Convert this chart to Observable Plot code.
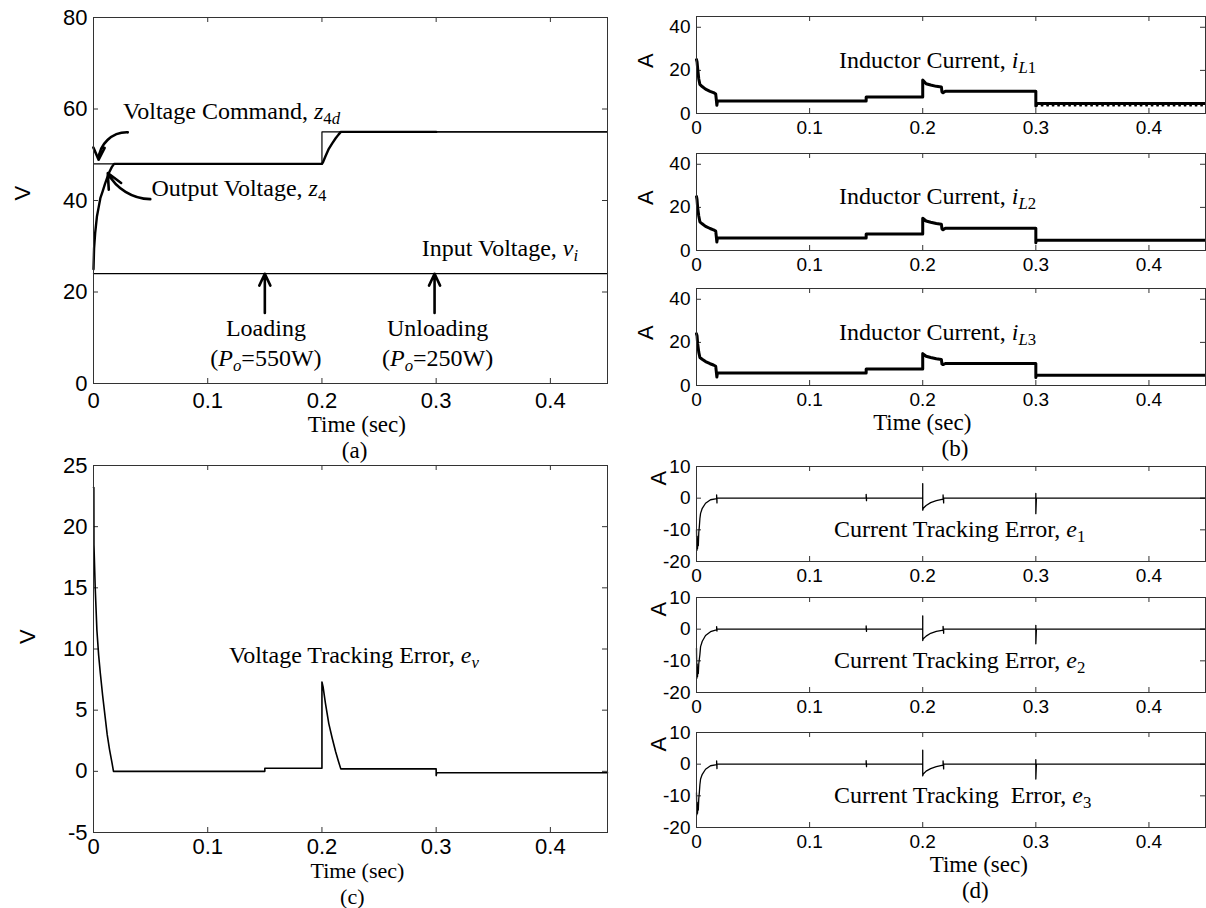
<!DOCTYPE html>
<html><head><meta charset="utf-8">
<script src="https://cdn.jsdelivr.net/npm/d3@7"></script>
<script src="https://cdn.jsdelivr.net/npm/@observablehq/plot@0.6"></script>
<style>
body{margin:0;background:#fff;}
#fig{position:relative;width:1206px;height:908px;overflow:hidden;background:#fff;}
.ann{position:absolute;font-family:"Liberation Serif","Times New Roman",serif;font-size:24px;white-space:nowrap;color:#000;line-height:1;}
.ann.lbl{line-height:0.9;}
.ann sub{font-size:0.7em;vertical-align:-0.3em;line-height:0;}
</style></head><body><div id="fig"></div><script>
// ---------- data ----------
const xTicks = [0, 0.1, 0.2, 0.3, 0.4];
const yTicksA = [0, 20, 40, 60, 80];
const yTicksB = [0, 20, 40];
const yTicksC = [-5, 0, 5, 10, 15, 20, 25];
const yTicksD = [-20, -10, 0, 10];

// (a) voltages
const tCmd = [0, 0.2, 0.2, 0.45];
const z4d = [48, 48, 55, 55];
const tOut = [0, 0.0005, 0.0015, 0.003, 0.0045, 0.006, 0.008, 0.01, 0.012, 0.014, 0.016, 0.018, 0.2, 0.201, 0.203, 0.206, 0.209, 0.212, 0.2145, 0.2165, 0.3, 0.45];
const z4 = [25, 29.5, 33, 36.5, 38.5, 40.5, 42, 43.6, 45, 46.3, 47.3, 48, 48, 48.4, 49.6, 51.3, 52.5, 53.6, 54.4, 55, 55, 55];
const tIn = [0, 0.45];
const vi = [24, 24];

// (b) inductor currents
const tIL = [0, 0.0005, 0.001, 0.002, 0.003, 0.005, 0.008, 0.012, 0.015, 0.017, 0.0175, 0.018, 0.0185, 0.02, 0.15, 0.15, 0.2, 0.2, 0.203, 0.207, 0.212, 0.2165, 0.217, 0.218, 0.22, 0.3, 0.3, 0.3003, 0.45];
const iL1 = [25, 24, 21, 16, 13.5, 12.5, 11.3, 10.3, 9.7, 9.0, 6.5, 3.8, 5.8, 5.8, 5.8, 7.6, 7.6, 15.5, 13.8, 13.2, 12.6, 12.3, 10, 9.6, 10.3, 10.3, 3.5, 4.6, 4.6];
const iL2 = [25, 23.5, 20, 16, 13.3, 12.4, 11.2, 10.2, 9.6, 9.0, 6.5, 3.9, 5.8, 5.8, 5.8, 7.6, 7.6, 15, 13.7, 13.1, 12.5, 12.2, 10, 9.6, 10.3, 10.3, 3.6, 4.7, 4.7];
const iL3 = [24, 23, 19.5, 15.5, 13, 12.2, 11.1, 10.1, 9.5, 8.9, 6.4, 3.9, 5.8, 5.8, 5.8, 7.6, 7.6, 14.8, 13.6, 13.0, 12.4, 12.1, 10, 9.7, 10.2, 10.2, 3.7, 4.7, 4.7];
const tRipple = [0.3, 0.45];
const iL1Ripple = [3.6, 3.6];

// (c) voltage tracking error
const tEv = [0, 0.0003, 0.0004, 0.0015, 0.003, 0.0045, 0.006, 0.008, 0.01, 0.012, 0.014, 0.016, 0.0175, 0.15, 0.15, 0.2, 0.2, 0.201, 0.203, 0.206, 0.209, 0.212, 0.2145, 0.2165, 0.3, 0.3, 0.3005, 0.45];
const ev = [23.2, 23.2, 18.5, 15, 11.5, 9.5, 8, 6.2, 4.6, 3, 1.8, 0.8, 0, 0, 0.25, 0.25, 7.3, 6.9, 5.6, 3.9, 2.7, 1.6, 0.8, 0.2, 0.2, -0.35, -0.12, -0.12];

// (d) current tracking errors
const tE = [0, 0.0003, 0.0006, 0.0009, 0.0012, 0.0016, 0.002, 0.0025, 0.003, 0.0036, 0.0051, 0.008, 0.0124, 0.0168, 0.0178, 0.0178, 0.0181, 0.0181, 0.15, 0.15, 0.1503, 0.1503, 0.2, 0.2, 0.2, 0.2005, 0.203, 0.207, 0.212, 0.217, 0.218, 0.218, 0.2185, 0.2185, 0.3, 0.3, 0.3, 0.3005, 0.45];
const e1 = [-10, -16.5, -12, -16, -13, -15, -11, -9, -6.5, -4.8, -3.2, -1.6, -0.5, -0.2, -0.2, 1, -1.5, 0, 0, 1.2, -0.8, 0, 0, 4.6, -3.8, -3.2, -2.3, -1.4, -0.8, -0.4, -0.4, 1, -1.5, 0, 0, 1.5, -4.9, 0, 0];
const e2 = [-6, -15.5, -11, -15, -12, -14, -11, -9.5, -8, -5.5, -3.8, -2, -0.8, -0.3, -0.2, 0.8, -0.6, 0, 0, 1, -0.7, 0, 0, 4.2, -3.6, -3.0, -2.2, -1.3, -0.7, -0.4, -0.4, 0.9, -1.3, 0, 0, 1.2, -4.6, 0, 0];
const e3 = [-9, -16, -12, -15.5, -13, -14.5, -11, -9, -6.5, -4.7, -3.2, -1.6, -0.5, -0.2, -0.2, 1, -1.4, 0, 0, 1.1, -0.8, 0, 0, 4.4, -3.7, -3.1, -2.2, -1.4, -0.8, -0.4, -0.4, 1, -1.5, 0, 0, 1.4, -4.7, 0, 0];

// annotations (data coordinates)
const annA = [
  {t: 0.0263, v: 59.4, html: "Voltage Command, <i>z</i><sub>4<i>d</i></sub>", anchor: "start"},
  {t: 0.0512, v: 42.6, html: "Output Voltage, <i>z</i><sub>4</sub>", anchor: "start"},
  {t: 0.2878, v: 29.5, html: "Input Voltage, <i>v<sub>i</sub></i>", anchor: "start"},
  {t: 0.1514, v: 12.1, html: "Loading", anchor: "middle"},
  {t: 0.1514, v: 5.5, html: "(<i>P<sub>o</sub></i>=550W)", anchor: "middle"},
  {t: 0.3017, v: 12.1, html: "Unloading", anchor: "middle"},
  {t: 0.3017, v: 5.5, html: "(<i>P<sub>o</sub></i>=250W)", anchor: "middle"}
];
const arrowCmd = [{t1: 0.030, v1: 54.9, t2: 0.0045, v2: 48.9}];
const arrowOut = [{t1: 0.0497, v1: 40.3, t2: 0.0125, v2: 46.0}];
const arrowLoad = [{t1: 0.15, v1: 15.4, t2: 0.15, v2: 24}, {t1: 0.2986, v1: 15.4, t2: 0.2986, v2: 24}];
const annB = ["Inductor Current, <i>i<sub>L</sub></i><sub>1</sub>", "Inductor Current, <i>i<sub>L</sub></i><sub>2</sub>", "Inductor Current, <i>i<sub>L</sub></i><sub>3</sub>"];
const annBPos = {t: 0.1265, v: 24.6};
const annC = [{t: 0.119, v: 9.5, html: "Voltage Tracking Error, <i>e<sub>v</sub></i>", anchor: "start"}];
const annD = ["Current Tracking Error, <i>e</i><sub>1</sub>", "Current Tracking Error, <i>e</i><sub>2</sub>", "Current Tracking&nbsp; Error, <i>e</i><sub>3</sub>"];
const annDPos = {t: 0.122, v: -10};

// ---------- drawing ----------
const SANS = '"Liberation Sans", Arial, Helvetica, sans-serif';
const AXIS = "#333";
const fig = document.getElementById("fig");
const pts = (t, v) => t.map((x, i) => ({t: x, v: v[i]}));
const fmt = d => String(d);

function makePanel(o) {
  const fw = o.width - o.mL - o.mR, fh = o.height - o.mT - o.mB, tk = 5;
  const p = Plot.plot({
    width: o.width, height: o.height,
    marginLeft: o.mL, marginRight: o.mR, marginTop: o.mT, marginBottom: o.mB,
    style: {background: "transparent", color: "#000", fontFamily: SANS, overflow: "visible"},
    x: {domain: [0, 0.45]},
    y: {domain: o.yDomain},
    marks: [
      Plot.ruleY(o.yTicks, {y: d => d, insetRight: fw - tk, stroke: AXIS}),
      Plot.ruleY(o.yTicks, {y: d => d, insetLeft: fw - tk, stroke: AXIS}),
      Plot.ruleX(xTicks, {x: d => d, insetTop: fh - tk, stroke: AXIS}),
      Plot.ruleX(xTicks, {x: d => d, insetBottom: fh - tk, stroke: AXIS}),
      Plot.axisX(xTicks, {tickSize: 0, tickPadding: o.xPad, fontSize: o.font, tickFormat: fmt, label: null}),
      Plot.axisY(o.yTicks, {tickSize: 0, tickPadding: 6, fontSize: o.font, tickFormat: fmt, label: null}),
      ...o.marks,
      Plot.frame({stroke: AXIS}),
      Plot.text([o.ylabel], {text: d => d, frameAnchor: o.ylAnchor, dx: o.ylDx, dy: o.ylDy, rotate: -90, fontSize: 22, fontFamily: SANS})
    ]
  });
  p.style.position = "absolute";
  p.style.left = o.left + "px";
  p.style.top = o.top + "px";
  fig.append(p);
  p._o = o;
  return p;
}

function addText(p, t, v, html, anchor, size) {
  const o = p._o, sx = p.scale("x"), sy = p.scale("y");
  const div = document.createElement("div");
  div.className = "ann";
  div.innerHTML = html;
  if (size) div.style.fontSize = size + "px";
  div.style.left = (o.left + sx.apply(t)) + "px";
  div.style.top = (o.top + sy.apply(v)) + "px";
  div.style.transform = anchor === "middle" ? "translate(-50%,-50%)" : "translate(0,-50%)";
  fig.append(div);
}
function addBelow(p, t, dy, html, size) {
  const o = p._o, sx = p.scale("x"), sy = p.scale("y");
  const div = document.createElement("div");
  div.className = "ann lbl";
  div.innerHTML = html;
  if (size) div.style.fontSize = size + "px";
  div.style.left = (o.left + sx.apply(t)) + "px";
  div.style.top = (o.top + sy.apply(o.yDomain[0]) + dy) + "px";
  div.style.transform = "translate(-50%,-50%)";
  fig.append(div);
}

// (a)
const outPts = pts(tOut, z4);
const pA = makePanel({
  left: 0, top: 0, width: 620, height: 440, mL: 93, mR: 13, mT: 17, mB: 57,
  yDomain: [0, 80], yTicks: yTicksA, font: 22, xPad: 9,
  ylabel: "V", ylAnchor: "left", ylDx: -71, ylDy: 0,
  marks: [
    Plot.line(pts(tIn, vi), {x: "t", y: "v", stroke: "#000", strokeWidth: 1.3}),
    Plot.line(pts(tCmd, z4d), {x: "t", y: "v", stroke: "#000", strokeWidth: 1.2}),
    Plot.line(outPts.filter(d => d.t <= 0.3), {x: "t", y: "v", stroke: "#000", strokeWidth: 2.4}),
    Plot.line(outPts.filter(d => d.t >= 0.3), {x: "t", y: "v", stroke: "#000", strokeWidth: 1.2}),
    Plot.arrow(arrowCmd, {x1: "t1", y1: "v1", x2: "t2", y2: "v2", bend: -45, stroke: "#000", strokeWidth: 2.6, headLength: 12, headAngle: 50}),
    Plot.arrow(arrowOut, {x1: "t1", y1: "v1", x2: "t2", y2: "v2", bend: 30, stroke: "#000", strokeWidth: 2.6, headLength: 12, headAngle: 50}),
    Plot.arrow(arrowLoad, {x1: "t1", y1: "v1", x2: "t2", y2: "v2", stroke: "#000", strokeWidth: 2.6, headLength: 12, headAngle: 50})
  ]
});
annA.forEach(a => addText(pA, a.t, a.v, a.html, a.anchor));
addBelow(pA, 0.231, 42, "Time (sec)", 23);
addBelow(pA, 0.229, 68, "(a)", 23);

// (c)
const pC = makePanel({
  left: 0, top: 440, width: 620, height: 468, mL: 93, mR: 13, mT: 25, mB: 76,
  yDomain: [-5, 25], yTicks: yTicksC, font: 22, xPad: 6,
  ylabel: "V", ylAnchor: "left", ylDx: -66, ylDy: -5,
  marks: [
    Plot.line(pts(tEv, ev), {x: "t", y: "v", stroke: "#000", strokeWidth: 1.6})
  ]
});
annC.forEach(a => addText(pC, a.t, a.v, a.html, a.anchor));
addBelow(pC, 0.2315, 39, "Time (sec)", 22);
addBelow(pC, 0.227, 65, "(c)", 22);

// (b)
const bTops = [0, 136.5, 272];
const bSeries = [iL1, iL2, iL3];
let lastB;
bSeries.forEach((s, k) => {
  const marks = [Plot.line(pts(tIL, s), {x: "t", y: "v", stroke: "#000", strokeWidth: 3})];
  if (k === 0) marks.push(Plot.line(pts(tRipple, iL1Ripple), {x: "t", y: "v", stroke: "#000", strokeWidth: 1.5, strokeDasharray: "1.5 4"}));
  const p = makePanel({
    left: 620, top: bTops[k], width: 586, height: 140, mL: 76, mR: 1, mT: 16, mB: 27,
    yDomain: [0, 45], yTicks: yTicksB, font: 19, xPad: 7,
    ylabel: "A", ylAnchor: "left", ylDx: -51, ylDy: 3,
    marks
  });
  addText(p, annBPos.t, annBPos.v, annB[k], "start", 24);
  lastB = p;
});
addBelow(lastB, 0.2, 38, "Time (sec)", 23);
addBelow(lastB, 0.229, 64, "(b)", 23);

// (d)
const dTops = [450, 581, 716];
const dSeries = [e1, e2, e3];
let lastD;
dSeries.forEach((s, k) => {
  const p = makePanel({
    left: 620, top: dTops[k], width: 586, height: 135, mL: 76, mR: 1, mT: 16, mB: 24,
    yDomain: [-20, 10], yTicks: yTicksD, font: 19, xPad: 7,
    ylabel: "A", ylAnchor: "top-left", ylDx: -46, ylDy: 19,
    marks: [Plot.line(pts(tE, s), {x: "t", y: "v", stroke: "#000", strokeWidth: 1.3})]
  });
  addText(p, annDPos.t, annDPos.v, annD[k], "start", 24);
  lastD = p;
});
addBelow(lastD, 0.25, 38, "Time (sec)", 23);
addBelow(lastD, 0.247, 64, "(d)", 23);
</script></body></html>
